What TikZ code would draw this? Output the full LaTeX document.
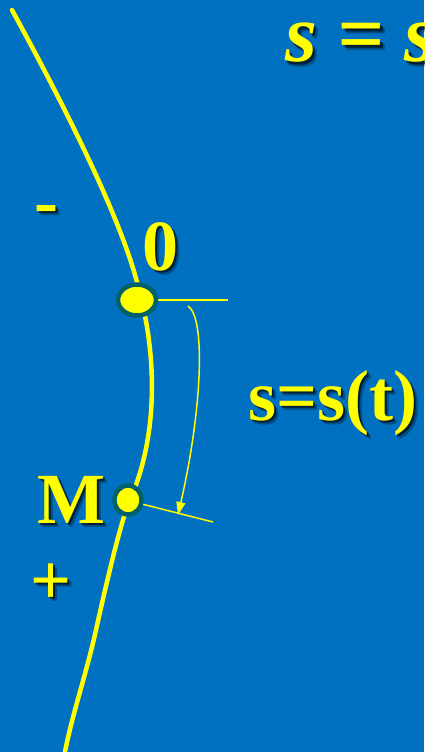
\documentclass[tikz,border=0pt]{standalone}
\usepackage{fontspec}
\setmainfont{Liberation Serif}
\usetikzlibrary{arrows.meta,shapes.geometric}
\definecolor{bgblue}{RGB}{0,112,192}
\definecolor{ylw}{RGB}{255,255,0}
\definecolor{rim}{RGB}{0,98,104}
\tikzset{
  lbl/.style={inner sep=0pt, text=ylw, font=\fontsize{72}{72}\selectfont\bfseries},
  curveline/.style={draw=ylw, line width=4.5pt, line cap=round},
  thinline/.style={draw=ylw, line width=1.5pt},
  dot/.style={ellipse, draw=rim, line width=4.5pt, fill=ylw, inner sep=0pt},
}
\newcommand{\shlabel}[5][]{%
  \node[lbl,#1,text=black,opacity=.3,xshift=4.5pt,yshift=-4.5pt,anchor=#4] (#2s2) at (#3) {#5};
  \node[lbl,#1,text=black,opacity=.6,xshift=2.5pt,yshift=-2.5pt,anchor=#4] (#2s) at (#3) {#5};
  \node[lbl,#1,anchor=#4] (#2) at (#3) {#5};}
\begin{document}
\begin{tikzpicture}[x=1pt,y=-1pt]
\fill[bgblue] (0,0) rectangle (424,752);
\useasboundingbox (0,0) rectangle (424,752);
\clip (0,0) rectangle (424,752);
% main curve
\draw[curveline] (12,10) .. controls (75,125) and (128,235) .. (140,295)
  .. controls (150,330) and (165,420) .. (130,500)
  .. controls (121,520) and (106,585) .. (96,630)
  .. controls (86,675) and (72,715) .. (65,752);
% reference lines
\coordinate (Oend) at (228,300);
\coordinate (Mend) at (213,522);
\draw[thinline] (139,300) -- (Oend);
\draw[thinline] (130,501) -- (Mend);
% points
\node[dot, minimum width=38pt, minimum height=31pt] (O) at (137,300) {};
\node[dot, minimum width=27pt, minimum height=29pt] (M) at (128,500) {};
% arc arrow
\coordinate (a1) at (188,306);
\coordinate (a2) at (178,515);
\draw[thinline, -{Triangle[length=13pt,width=9pt]}] (a1) .. controls (206,318) and (202,410) .. (a2);
% labels
\shlabel{zero}{142,270}{base west}{0}
\shlabel{Mlab}{37,523}{base west}{M}
\shlabel{minus}{34,225}{base west}{-}
\shlabel{plus}{30,604}{base west}{+}
\shlabel{eq}{248,420}{base west}{s=s(t)}
\shlabel[font=\fontsize{82}{82}\selectfont\bfseries\itshape]{top}{285,62}{base west}{s = s}
\end{tikzpicture}
\end{document}
